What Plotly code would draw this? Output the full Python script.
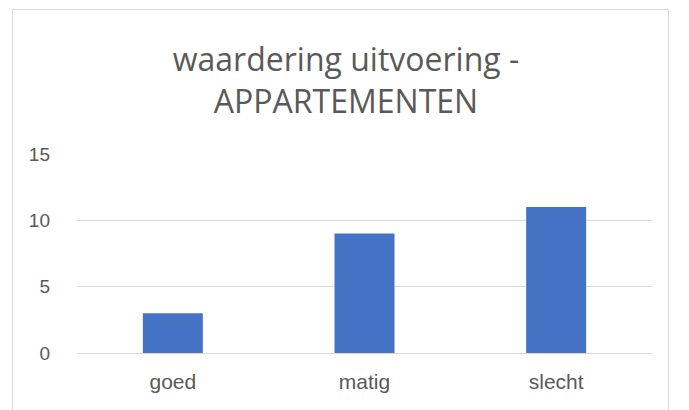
import plotly.graph_objects as go

categories = ["goed", "matig", "slecht"]
values = [3, 9, 11]
y_ticks = [0, 5, 10, 15]
title_text = "waardering uitvoering -<br>APPARTEMENTEN"

W, H = 689, 410
ml, mr, mt, mb = 69, 45, 146, 65
pw, ph = W - ml - mr, H - mt - mb

fig = go.Figure(go.Bar(x=categories, y=values, marker=dict(color="#4472c4", line=dict(width=0)),
                       hoverinfo="x+y"))

def px_to_paper_x(px):
    return (px - ml) / pw

def px_to_paper_y(py):
    return (H - mb - py) / ph

fig.add_shape(type="rect", xref="paper", yref="paper",
              x0=px_to_paper_x(4.5), x1=px_to_paper_x(660.5),
              y0=px_to_paper_y(420), y1=px_to_paper_y(1.5),
              line=dict(color="#d9d9d9", width=1), fillcolor="rgba(0,0,0,0)", layer="below")

fig.update_layout(
    width=W, height=H,
    margin=dict(l=ml, r=mr, t=mt, b=mb),
    paper_bgcolor="white", plot_bgcolor="white",
    bargap=0.687,
    showlegend=False,
    font=dict(family="Liberation Sans, Arial, sans-serif", color="#595959", size=19),
    title=dict(text=title_text, x=338 / W, xanchor="center", xref="container",
               y=1 - 63 / H, yanchor="middle", yref="container",
               font=dict(size=32, color="#595959", family="Open Sans, sans-serif")),
    xaxis=dict(showgrid=False, showline=False, ticks="", ticklabelstandoff=14,
               tickfont=dict(size=21, color="#595959")),
    yaxis=dict(range=[0, 15], tickvals=y_ticks, showgrid=True, gridcolor="#d9d9d9", gridwidth=1,
               zeroline=True, zerolinecolor="#d9d9d9", zerolinewidth=1, showline=False,
               ticks="", ticklabelstandoff=26, tickfont=dict(size=19, color="#595959")),
)

fig.write_html("out.html")
